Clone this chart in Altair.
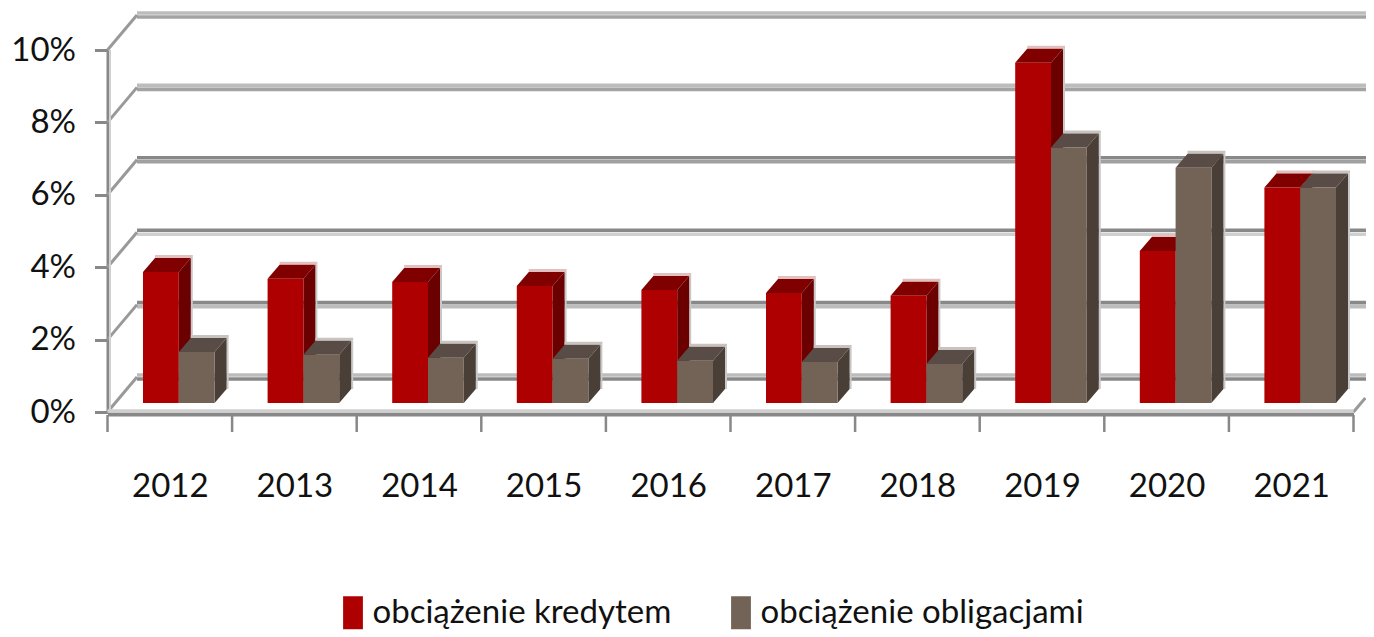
import altair as alt
import pandas as pd

years = [2012, 2013, 2014, 2015, 2016, 2017, 2018, 2019, 2020, 2021]
kredyt = [3.62, 3.43, 3.34, 3.23, 3.12, 3.04, 2.96, 9.40, 4.20, 5.95]
obligacje = [1.41, 1.33, 1.25, 1.22, 1.17, 1.13, 1.08, 7.06, 6.50, 5.95]
levels = [0, 2, 4, 6, 8, 10]
band_top = ["#bcbcbc", "#888888", "#888888", "#888888", "#bcbcbc", "#bcbcbc"]
band_bottom = ["#888888", "#bcbcbc", "#cfcfcf", "#a0a0a0", "#a3a3a3", "#a3a3a3"]
series_names = ["obciążenie kredytem", "obciążenie obligacjami"]
front_colors = ["#ae0000", "#736256"]
top_colors = ["#800000", "#594b45"]
side_colors = ["#6b0000", "#4a3f37"]
edge_colors = ["#e3c0c0", "#c9c3bf"]

FONT = "Lato"
PX_X, PX_Y = 124.6, 36.2            # pixels per scale unit
WALL_X, WALL_Y = 29.5 / PX_X, 35 / PX_Y
DX, DY = 12 / PX_X, 14 / PX_Y       # bar depth
BASE = 9 / PX_Y                     # bars stand mid-way on the floor
LEFT = 35.5 / PX_X
BAR_W = 35.8 / PX_X
RIGHT_END = 10.11

xs = alt.Scale(domain=[0, 10], nice=False, zero=False)
ys = alt.Scale(domain=[0, 10], nice=False, zero=False)

x_axis = alt.Axis(
    values=[k + 0.5 for k in range(len(years))],
    labelExpr="'' + (%d + floor(datum.value))" % years[0],
    ticks=False, grid=False, title=None, domain=True, domainColor="#888888", domainWidth=4,
    offset=2, labelPadding=82, labelFont=FONT, labelFontSize=33, labelColor="#111111",
    labelOverlap=False, labelBaseline="alphabetic", labelFlush=False)
y_axis = alt.Axis(
    values=levels, labelExpr="datum.value + '%'", grid=False, title=None,
    domainColor="#888888", domainWidth=3, tickColor="#888888", tickWidth=3, tickSize=13,
    labelPadding=19, labelFont=FONT, labelFontSize=33, labelColor="#111111", labelOverlap=False,
    labelFlush=False)

X = lambda f: alt.X(f, type="quantitative", scale=xs, axis=x_axis)
Y = lambda f: alt.Y(f, type="quantitative", scale=ys, axis=y_axis)

# tables
fronts, tops, sides, halos_top, halos_side = [], [], [], [], []
for s, vals in enumerate([kredyt, obligacje]):
    ft, sd, ha, hs = [], [], [], []
    for k, v in enumerate(vals):
        l = k + LEFT + s * BAR_W
        r = l + BAR_W
        t = BASE + v
        fronts.append(dict(series=series_names[s], l=l, r=r, b=BASE, t=t))
        for px, lo, hi in [(l, t, t), (l + DX, t, t + DY), (r, t, t + DY), (r + DX, t + DY, t + DY)]:
            ft.append(dict(g=k, x=px, lo=lo, hi=hi))
        for px, lo, hi in [(r, BASE, t), (r + DX, BASE + DY, t + DY)]:
            sd.append(dict(g=k, x=px, lo=lo, hi=hi))
        ha.append(dict(l=l + DX, r=r + DX + 2 / PX_X, b=t + DY, t=t + DY + 3 / PX_Y))
        hs.append(dict(l=r + DX, r=r + DX + 2 / PX_X, b=BASE + DY, t=t + DY))
    tops.append(pd.DataFrame(ft))
    sides.append(pd.DataFrame(sd))
    halos_top.append(pd.DataFrame(ha))
    halos_side.append(pd.DataFrame(hs))
fronts = pd.DataFrame(fronts)

wall = pd.DataFrame(dict(level=levels, top=band_top, bottom=band_bottom))
wall["y"] = wall["level"] + WALL_Y
wall["x"] = WALL_X
wall["x2"] = RIGHT_END

diag = pd.DataFrame(
    [dict(g=L, x=0, y=L) for L in levels] + [dict(g=L, x=WALL_X, y=L + WALL_Y) for L in levels]
    + [dict(g=99, x=10, y=0), dict(g=99, x=10 + WALL_X * 0.4, y=WALL_Y * 0.4)]
)

tick_df = pd.DataFrame(dict(x=list(range(11))))
tick_df["y"] = -3 / PX_Y
tick_df["y2"] = -20 / PX_Y

layers = []

# back wall bands
for col, off in [("top", -2), ("bottom", 2)]:
    layers.append(alt.Chart(wall).mark_rule(strokeWidth=3.6, yOffset=off).encode(
        x=X("x"), x2="x2:Q", y=Y("y"), color=alt.Color(f"{col}:N", scale=None, legend=None)))

# depth diagonals
layers.append(alt.Chart(diag).mark_line(strokeWidth=3, color="#999999").encode(
    x=X("x"), y=Y("y"), detail="g:N"))

# floor light band and light strip next to the value axis
layers.append(alt.Chart(pd.DataFrame(dict(x=[0], x2=[10], y=[0]))).mark_rule(
    strokeWidth=3.6, color="#cfcfcf", yOffset=-1).encode(x=X("x"), x2="x2:Q", y=Y("y")))
layers.append(alt.Chart(pd.DataFrame(dict(x=[0], y=[0], y2=[10]))).mark_rule(
    strokeWidth=2, color="#d0d0d0", xOffset=2.5).encode(x=X("x"), y=Y("y"), y2="y2:Q"))

# category ticks
layers.append(alt.Chart(tick_df).mark_rule(strokeWidth=2.5, color="#888888").encode(
    x=X("x"), y=Y("y"), y2="y2:Q"))

# bar depth faces, series by series
for s in range(2):
    layers.append(alt.Chart(halos_top[s]).mark_rect(color=edge_colors[s]).encode(
        x=X("l"), x2="r:Q", y=Y("b"), y2="t:Q"))
    layers.append(alt.Chart(halos_side[s]).mark_rect(color="#c8c8c8").encode(
        x=X("l"), x2="r:Q", y=Y("b"), y2="t:Q"))
    layers.append(alt.Chart(tops[s]).mark_area(color=top_colors[s], opacity=1).encode(
        x=X("x"), y=Y("lo"), y2="hi:Q", detail="g:N"))
    layers.append(alt.Chart(sides[s]).mark_area(color=side_colors[s], opacity=1).encode(
        x=X("x"), y=Y("lo"), y2="hi:Q", detail="g:N"))

# bar fronts + legend
layers.append(alt.Chart(fronts).mark_rect().encode(
    x=X("l"), x2="r:Q", y=Y("b"), y2="t:Q",
    color=alt.Color("series:N", scale=alt.Scale(domain=series_names, range=front_colors),
                    legend=alt.Legend(
                        title=None, orient="none", direction="horizontal", columns=2,
                        legendX=229, legendY=546, padding=0,
                        symbolType="M-0.6,-1H0.6V1H-0.6Z", symbolSize=1089,
                        symbolStrokeWidth=0, symbolOpacity=1, labelOffset=3, columnPadding=53,
                        labelFont=FONT, labelFontSize=33, labelColor="#111111", labelLimit=0))))

chart = alt.layer(*layers).resolve_scale(color="independent").properties(
    width=1246, height=362,
    padding={"left": 99.5, "top": 42, "right": 12.5, "bottom": 225},
    autosize=alt.AutoSizeParams(type="none"),
).configure_view(stroke=None)

chart.save("out.html", embed_options={"renderer": "svg", "actions": False})
